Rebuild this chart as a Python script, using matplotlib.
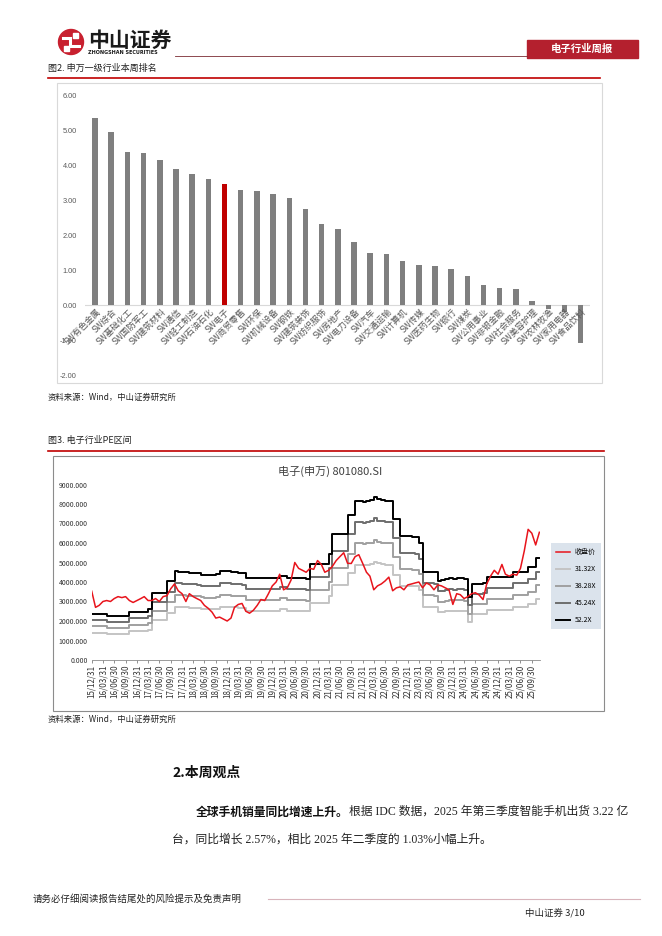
import matplotlib.pyplot as plt
import matplotlib.patches as mpatches
import pandas as pd

plt.rcParams['font.family'] = ['Noto Sans CJK SC', 'DejaVu Sans']

W, H = 662, 936

# ---- chart 1: SW level-1 industries, weekly change (%)
industries = ['SW有色金属', 'SW综合', 'SW基础化工', 'SW国防军工', 'SW建筑材料', 'SW通信',
              'SW轻工制造', 'SW石油石化', 'SW电子', 'SW商贸零售', 'SW环保', 'SW机械设备',
              'SW钢铁', 'SW建筑装饰', 'SW纺织服饰', 'SW房地产', 'SW电力设备', 'SW汽车',
              'SW交通运输', 'SW计算机', 'SW传媒', 'SW医药生物', 'SW银行', 'SW煤炭',
              'SW公用事业', 'SW非银金融', 'SW社会服务', 'SW美容护理', 'SW农林牧渔',
              'SW家用电器', 'SW食品饮料']
weekly_change = [5.34, 4.94, 4.39, 4.34, 4.14, 3.90, 3.75, 3.62, 3.47, 3.28, 3.26, 3.18,
                 3.07, 2.75, 2.33, 2.19, 1.80, 1.50, 1.46, 1.26, 1.15, 1.12, 1.03, 0.83,
                 0.58, 0.48, 0.46, 0.13, -0.12, -0.21, -1.08]
highlight = 'SW电子'

# ---- chart 2: electronics index close and PE bands (month ends)
months = pd.date_range('2015-12-31', periods=120, freq='ME')
close = [3530, 2700, 2800, 3000, 3050, 3000, 3150, 3250, 3200, 3250,
         3050, 2950, 3050, 3150, 3250, 3050, 3050, 3150, 3000, 3250,
         3300, 3650, 3900, 3550, 3400, 3000, 3400, 3250, 3150, 3050,
         2800, 2650, 2450, 2150, 2200, 2100, 2000, 2150, 2700, 2850,
         2900, 2500, 2400, 2550, 2800, 3100, 3050, 3400, 3800, 4000,
         4400, 3600, 3700, 4100, 5000, 4700, 4600, 4500, 4700, 4650,
         5100, 4900, 4500, 4600, 4800, 5100, 5300, 5500, 4960, 4950,
         5300, 5400, 4960, 4500, 4300, 3600, 3800, 3900, 4050, 4250,
         3550, 3700, 3750, 3600, 3850, 3900, 3950, 4000, 3700, 3950,
         3850, 3600, 3850, 3800, 3700, 3600, 2850, 3400, 3350, 3150,
         3250, 3400, 3450, 3330, 3100, 3900, 4300, 4600, 4400, 4900,
         4400, 4300, 4400, 4350, 4700, 5600, 6700, 6500, 5900, 6550]
# index level implied by the highest PE multiple (52.2X)
band_top = [2350, 2350, 2350, 2350, 2240, 2240, 2240, 2260, 2260, 2260,
            2470, 2470, 2470, 2470, 2470, 2600, 3450, 3450, 3450, 3450,
            4050, 4050, 4540, 4530, 4520, 4500, 4480, 4470, 4450, 4380,
            4350, 4350, 4370, 4400, 4560, 4550, 4540, 4510, 4500, 4480,
            4450, 4220, 4200, 4200, 4200, 4200, 4200, 4200, 4200, 4200,
            4330, 4330, 4230, 4230, 4230, 4230, 4230, 4150, 4900, 4900,
            4900, 4900, 4900, 5450, 6450, 6450, 6450, 6450, 7440, 7440,
            8150, 8150, 8100, 8150, 8200, 8380, 8250, 8200, 8150, 8150,
            7230, 7230, 6360, 6350, 6340, 6320, 6300, 6000, 4530, 4530,
            4530, 4500, 4070, 4080, 4150, 4180, 4170, 4200, 4180, 4150,
            3250, 3900, 3900, 3900, 3950, 4280, 4280, 4280, 4280, 4280,
            4280, 4280, 4530, 4530, 4530, 4530, 4790, 4790, 5210, 5210]
pe_multiples = [31.32, 38.28, 45.24, 52.2]
band_labels = ['31.32X', '38.28X', '45.24X', '52.2X']
band_colors = ['#c4c4c4', '#a0a0a0', '#6e6e6e', '#000000']


def box(x0, y0, x1, y1):
    return [x0 / W, 1 - y1 / H, (x1 - x0) / W, (y1 - y0) / H]


fig = plt.figure(figsize=(W / 100, H / 100), dpi=100)
page = fig.add_axes([0, 0, 1, 1])
page.set_xlim(0, W)
page.set_ylim(H, 0)
page.axis('off')

# header
page.add_patch(mpatches.Circle((71, 42), 12.5, color='#c8202f'))
page.plot([63, 70, 70, 79], [38, 38, 46, 46], color='white', lw=2.2, solid_joinstyle='miter')
page.add_patch(mpatches.Rectangle((73, 33), 5, 5, color='white'))
page.add_patch(mpatches.Rectangle((64, 46), 5, 5, color='white'))
page.text(88, 40, '中山证券', fontsize=15, fontweight='bold', color='#1a1a1a', va='center')
page.text(88, 52.5, 'ZHONGSHAN SECURITIES', fontsize=3.5, fontweight='bold',
          color='#1a1a1a', va='center', family='DejaVu Sans')
page.plot([175, 527], [56, 56], color='#7b2b33', lw=0.6)
page.add_patch(mpatches.Rectangle((527, 40), 111, 18, color='#b4202e'))
page.text(582, 49, '电子行业周报', fontsize=7.5, fontweight='bold', color='white',
          ha='center', va='center')

# figure 2 caption
page.text(48, 68, '图2. 申万一级行业本周排名', fontsize=6.5, color='#222222', va='center')
page.plot([48, 600], [78, 78], color='#c00000', lw=1.2)
page.add_patch(mpatches.Rectangle((57, 83), 545, 300, fill=False, ec='#d9d9d9', lw=0.8))

ax1 = fig.add_axes(box(85.3, 95.3, 590.4, 375))
ax1.set_facecolor('none')
colors = ['#c00000' if c == highlight else '#7f7f7f' for c in industries]
ax1.bar(range(len(industries)), weekly_change, width=0.34, color=colors, zorder=2)
ax1.axhline(0, color='#d9d9d9', lw=0.8, zorder=1)
ax1.set_xlim(-0.6, len(industries) - 0.4)
ax1.set_ylim(-2, 6)
ax1.set_yticks(range(-2, 7))
ax1.set_yticklabels(['{:.2f}'.format(v) for v in range(-2, 7)], family='Liberation Sans')
ax1.set_xticks([])
ax1.tick_params(axis='y', length=0, labelsize=5.3, labelcolor='#595959', pad=6)
for s in ax1.spines.values():
    s.set_visible(False)
for i, name in enumerate(industries):
    ax1.text(i + 0.25, -0.14, name, rotation=45, ha='right', va='center',
             rotation_mode='anchor', fontsize=6.2, color='#595959')

page.text(48, 397, '资料来源：Wind，中山证券研究所', fontsize=6, color='#222222', va='center')

# figure 3 caption
page.text(48, 440, '图3. 电子行业PE区间', fontsize=6.5, color='#222222', va='center')
page.plot([48, 604], [451, 451], color='#c00000', lw=1.2)
page.add_patch(mpatches.Rectangle((53, 456), 551, 255, fill=False, ec='#8c8c8c', lw=0.8))
page.text(330, 471, '电子(申万) 801080.SI', fontsize=8, color='#404040', ha='center', va='center')

ax2 = fig.add_axes(box(91.7, 484.5, 540, 660))
ax2.set_facecolor('none')
eps = [v / pe_multiples[-1] for v in band_top]
red_line, = ax2.plot(months, close, color='#e8141c', lw=1.1, zorder=5, label='收盘价')
handles = [red_line]
for k, lab, col in zip(pe_multiples, band_labels, band_colors):
    ln, = ax2.plot(months, [e * k for e in eps], color=col, lw=1.4,
                   drawstyle='steps-post', label=lab, zorder=3)
    handles.append(ln)
ax2.set_xlim(months[0], pd.Timestamp('2025-12-05'))
ax2.set_ylim(0, 9000)
quarters = pd.date_range('2015-12-31', '2025-09-30', freq='QE')
ax2.set_xticks(quarters)
ax2.set_xticklabels([d.strftime('%y/%m/%d') for d in quarters], rotation=90)
ax2.set_yticks(range(0, 9001, 1000))
ax2.set_yticklabels(['{:.3f}'.format(v) for v in range(0, 9001, 1000)])
ax2.tick_params(axis='x', length=2, width=0.6, color='#7f7f7f', labelsize=5.8,
                labelcolor='#333333', pad=1.5)
ax2.tick_params(axis='y', length=0, labelsize=5, labelcolor='#333333', pad=3)
for side in ['left', 'right', 'top']:
    ax2.spines[side].set_visible(False)
ax2.spines['bottom'].set_color('#8c8c8c')
ax2.spines['bottom'].set_linewidth(0.6)
ax2.legend(handles, [h.get_label() for h in handles], loc='upper left',
           bbox_to_anchor=(548 / W, 1 - 540 / H), bbox_transform=fig.transFigure,
           fontsize=5, frameon=True, facecolor='#dbe3ec', edgecolor='none', fancybox=False,
           framealpha=1, handlelength=2.0, handletextpad=0.6, labelspacing=1.3,
           borderpad=0.7)

page.text(48, 719, '资料来源：Wind，中山证券研究所', fontsize=6, color='#222222', va='center')

# body text
page.text(172, 773, '2.本周观点', fontsize=10, fontweight='bold', color='#111111', va='center')
body_font = ['Liberation Serif', 'Noto Sans CJK SC']
t1 = page.text(196, 812, '全球手机销量同比增速上升。', fontsize=8.5, fontweight='bold',
               color='#111111', va='center')
page.annotate('根据 IDC 数据，2025 年第三季度智能手机出货 3.22 亿', xy=(1, 0.5), xycoords=t1,
              va='center', fontsize=8.5, color='#222222', family=body_font)
page.text(172, 840, '台，同比增长 2.57%，相比 2025 年二季度的 1.03%小幅上升。', fontsize=8.5,
          color='#222222', va='center', family=body_font)

# footer
page.text(33, 899, '请务必仔细阅读报告结尾处的风险提示及免责声明', fontsize=6.8,
          color='#222222', va='center')
page.plot([268, 640], [899, 899], color='#d8b4bb', lw=0.8)
page.text(525, 913, '中山证券 3/10', fontsize=6.8, color='#222222', va='center')

fig.savefig('out.png', dpi=100)
